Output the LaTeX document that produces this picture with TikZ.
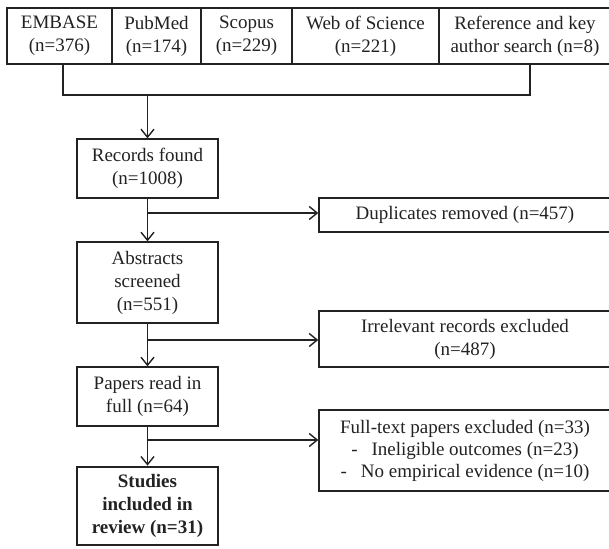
\documentclass[tikz,border=0pt]{standalone}
\usepackage{fontspec}
\setmainfont{Liberation Serif}
\usetikzlibrary{arrows.meta}
\definecolor{ink}{HTML}{222222}
\begin{document}
\begin{tikzpicture}[x=1pt, y=-1pt, line width=1.4pt, color=ink,
    box/.style={draw, inner sep=0pt, align=center, font=\fontsize{19}{23}\selectfont},
    arr/.style={-{Straight Barb[length=8pt,width=13pt]}}]
    \useasboundingbox (0,0) rectangle (609,548);
    % Databases
    \node[box, minimum width=105, minimum height=56] (embase) at (59.5,36) {EMBASE\\(n=376)};
    \node[box, minimum width=89, minimum height=56] (pubmed) at (156.5,36) {PubMed\\(n=174)};
    \node[box, minimum width=91, minimum height=56] (scopus) at (246.5,36) {Scopus\\(n=229)};
    \node[box, minimum width=147, minimum height=56] (wos) at (365.5,36) {Web of Science\\(n=221)};
    \node[box, minimum width=172, minimum height=56] (refsearch) at (525,36) {Reference and key\\author search (n=8)};
    % Main column
    \node[box, minimum width=141, minimum height=59] (records) at (147.5,168.5) {Records found\\(n=1008)};
    \node[box, minimum width=141, minimum height=81] (abstracts) at (147.5,282.5) {Abstracts\\screened\\(n=551)};
    \node[box, minimum width=141, minimum height=59] (papers) at (147.5,396.5) {Papers read in\\full (n=64)};
    \node[box, line width=2.8pt, minimum width=141, minimum height=78, font=\fontsize{19}{23}\selectfont\bfseries] (studies) at (147.5,506) {Studies\\included in\\review (n=31)};
    % Exclusions
    \node[box, minimum width=292, minimum height=34] (dup) at (465,215) {Duplicates removed (n=457)};
    \node[box, minimum width=292, minimum height=56] (irrelevant) at (465,339) {Irrelevant records excluded\\(n=487)};
    \node[box, minimum width=292, minimum height=81, font=\fontsize{19}{22}\selectfont] (fulltext) at (465,450.5)
        {Full-text papers excluded (n=33)\\-\hspace{14pt}Ineligible outcomes (n=23)\\-\hspace{14pt}No empirical evidence (n=10)};
    % Bracket
    \coordinate (jl) at (63,95);
    \coordinate (jr) at (530,95);
    \draw (embase.south -| jl) -- (jl) -- (jr) -- (refsearch.south -| jr);
    \draw[arr] (records.north |- jl) -- (records.north);
    % Flow
    \draw[arr] (records) -- (abstracts);
    \draw[arr] (abstracts) -- (papers);
    \draw[arr] (papers) -- (studies);
    \coordinate (b1) at (147.5,213);
    \coordinate (b2) at (147.5,340);
    \coordinate (b3) at (147.5,440);
    \draw[arr] (b1) -- (b1 -| dup.west);
    \draw[arr] (b2) -- (b2 -| irrelevant.west);
    \draw[arr] (b3) -- (b3 -| fulltext.west);
\end{tikzpicture}
\end{document}
